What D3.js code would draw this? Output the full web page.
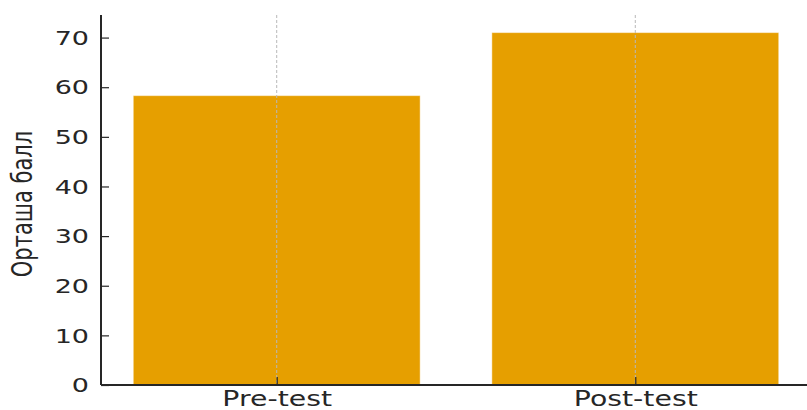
<!DOCTYPE html>
<html>
<head>
<meta charset="utf-8">
<script src="https://cdn.jsdelivr.net/npm/d3@7"></script>
<style>
  body { margin: 0; background: #fff; }
  svg { display: block; }
  text { font-family: "DejaVu Sans", sans-serif; fill: #262626; }
</style>
</head>
<body>
<div id="chart"></div>
<script>
// Chart data
const categories = ["Pre-test", "Post-test"];
const scores = [58.3, 71.0];
const yTicks = [0, 10, 20, 30, 40, 50, 60, 70];
const yLabel = "Орташа балл";

const width = 807, height = 410;
const plotLeft = 101, plotRight = 811, plotTop = 15, plotBottom = 385;
const stretch = 1.35; // text in the picture is drawn a bit wider than tall

const svg = d3.select("#chart").append("svg")
    .attr("width", width)
    .attr("height", height);

// Scales
const x = d3.scaleLinear()
    .domain([-0.49, 1.49])
    .range([plotLeft, plotRight]);

const y = d3.scaleLinear()
    .domain([0, 74.55])
    .range([plotBottom, plotTop]);

const barWidth = 0.8;

// Bars
svg.selectAll(".bar")
    .data(scores)
    .enter()
    .append("rect")
    .attr("class", "bar")
    .attr("x", (d, i) => x(i - barWidth / 2))
    .attr("width", (d, i) => x(i + barWidth / 2) - x(i - barWidth / 2))
    .attr("y", d => y(d))
    .attr("height", d => y(0) - y(d))
    .style("fill", "#e69f00")
    .style("stroke", "rgba(255,255,255,0.45)")
    .style("stroke-width", 1);

// Vertical dashed grid (drawn above bars)
svg.selectAll(".grid")
    .data(categories)
    .enter()
    .append("line")
    .attr("class", "grid")
    .attr("x1", (d, i) => x(i))
    .attr("x2", (d, i) => x(i))
    .attr("y1", plotTop)
    .attr("y2", plotBottom)
    .style("stroke", "#b8b8b8")
    .style("stroke-width", 1)
    .style("stroke-dasharray", "3,2");

// Y axis: inward ticks
const yAxis = d3.axisLeft(y)
    .tickValues(yTicks)
    .tickSize(-8)
    .tickPadding(0)
    .tickFormat(d3.format("d"));

const gy = svg.append("g")
    .attr("transform", `translate(${plotLeft},0)`)
    .call(yAxis);

gy.select(".domain").attr("d", `M0,${plotTop}V${plotBottom}`)
    .style("stroke", "#262626").style("stroke-width", 2);
gy.selectAll(".tick line").style("stroke", "#262626").style("stroke-width", 1.2);
gy.selectAll(".tick text")
    .attr("x", null)
    .attr("dy", null)
    .attr("text-anchor", "end")
    .attr("dominant-baseline", "central")
    .style("font-size", "20px")
    .attr("transform", `translate(-12,0) scale(${stretch},1)`);

// X axis: inward ticks
const xAxis = d3.axisBottom(x)
    .tickValues(categories.map((d, i) => i))
    .tickSize(-8)
    .tickFormat(i => categories[i]);

const gx = svg.append("g")
    .attr("transform", `translate(0,${plotBottom})`)
    .call(xAxis);

gx.select(".domain").attr("d", `M${plotLeft},0H${plotRight}`)
    .style("stroke", "#262626").style("stroke-width", 2);
gx.selectAll(".tick line").style("stroke", "#262626").style("stroke-width", 1.2);
gx.selectAll(".tick text")
    .attr("y", null)
    .attr("dy", null)
    .style("font-size", "21px")
    .attr("transform", `translate(0,21) scale(${stretch},1)`);

// Y label
svg.append("text")
    .attr("text-anchor", "middle")
    .style("font-size", "21px")
    .attr("transform", `translate(32,204) scale(${stretch},1) rotate(-90)`)
    .text(yLabel);
</script>
</body>
</html>
